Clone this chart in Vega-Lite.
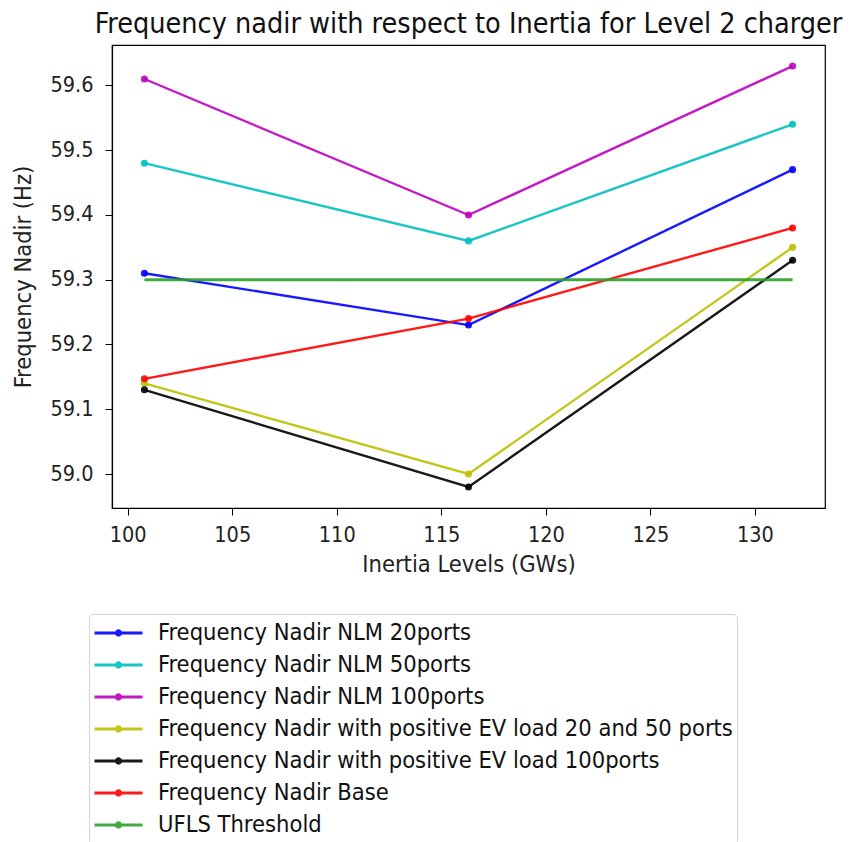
{
  "$schema": "https://vega.github.io/schema/vega-lite/v6.json",
  "width": 713,
  "height": 463,
  "autosize": {"type": "none"},
  "padding": {"left": 112, "top": 45, "right": 24, "bottom": 334},
  "background": "white",
  "config": {
    "font": "DejaVu Sans Condensed",
    "view": {"stroke": "#000", "strokeWidth": 1.2},
    "axis": {
      "grid": false,
      "domainColor": "#000",
      "domainWidth": 1.2,
      "tickColor": "#000",
      "tickSize": 7,
      "labelFontSize": 21.5,
      "labelColor": "#222",
      "labelFont": "DejaVu Sans Condensed",
      "titleFont": "DejaVu Sans Condensed",
      "titleFontSize": 23.5,
      "titleFontWeight": "normal",
      "titleColor": "#222"
    }
  },
  "title": {
    "text": "Frequency nadir with respect to Inertia for Level 2 charger",
    "fontSize": 28.5,
    "font": "DejaVu Sans Condensed",
    "fontWeight": "normal",
    "color": "#111",
    "anchor": "middle",
    "baseline": "bottom",
    "offset": 6,
    "dy": 28
  },
  "data": {
    "values": [
      {"series": "Frequency Nadir NLM 20ports", "inertia": 100.8, "nadir": 59.31},
      {"series": "Frequency Nadir NLM 20ports", "inertia": 116.3, "nadir": 59.23},
      {"series": "Frequency Nadir NLM 20ports", "inertia": 131.8, "nadir": 59.47},
      {"series": "Frequency Nadir NLM 50ports", "inertia": 100.8, "nadir": 59.48},
      {"series": "Frequency Nadir NLM 50ports", "inertia": 116.3, "nadir": 59.36},
      {"series": "Frequency Nadir NLM 50ports", "inertia": 131.8, "nadir": 59.54},
      {"series": "Frequency Nadir NLM 100ports", "inertia": 100.8, "nadir": 59.61},
      {"series": "Frequency Nadir NLM 100ports", "inertia": 116.3, "nadir": 59.40},
      {"series": "Frequency Nadir NLM 100ports", "inertia": 131.8, "nadir": 59.63},
      {"series": "Frequency Nadir with positive EV load 20 and 50 ports", "inertia": 100.8, "nadir": 59.14},
      {"series": "Frequency Nadir with positive EV load 20 and 50 ports", "inertia": 116.3, "nadir": 59.00},
      {"series": "Frequency Nadir with positive EV load 20 and 50 ports", "inertia": 131.8, "nadir": 59.35},
      {"series": "Frequency Nadir with positive EV load 100ports", "inertia": 100.8, "nadir": 59.13},
      {"series": "Frequency Nadir with positive EV load 100ports", "inertia": 116.3, "nadir": 58.98},
      {"series": "Frequency Nadir with positive EV load 100ports", "inertia": 131.8, "nadir": 59.33},
      {"series": "Frequency Nadir Base", "inertia": 100.8, "nadir": 59.147},
      {"series": "Frequency Nadir Base", "inertia": 116.3, "nadir": 59.24},
      {"series": "Frequency Nadir Base", "inertia": 131.8, "nadir": 59.38},
      {"series": "UFLS Threshold", "inertia": 100.8, "nadir": 59.3},
      {"series": "UFLS Threshold", "inertia": 131.8, "nadir": 59.3}
    ]
  },
  "encoding": {
    "x": {
      "field": "inertia",
      "type": "quantitative",
      "scale": {"domain": [99.25, 133.35], "nice": false, "zero": false},
      "axis": {"values": [100, 105, 110, 115, 120, 125, 130], "title": "Inertia Levels (GWs)", "labelPadding": 9, "titlePadding": 7}
    },
    "y": {
      "field": "nadir",
      "type": "quantitative",
      "scale": {"domain": [58.9475, 59.6625], "nice": false, "zero": false},
      "axis": {"values": [59.0, 59.1, 59.2, 59.3, 59.4, 59.5, 59.6], "format": ".1f", "title": "Frequency Nadir (Hz)", "labelPadding": 12, "titlePadding": 14}
    },
    "color": {
      "field": "series",
      "type": "nominal",
      "sort": null,
      "scale": {
        "domain": [
          "Frequency Nadir NLM 20ports",
          "Frequency Nadir NLM 50ports",
          "Frequency Nadir NLM 100ports",
          "Frequency Nadir with positive EV load 20 and 50 ports",
          "Frequency Nadir with positive EV load 100ports",
          "Frequency Nadir Base",
          "UFLS Threshold"
        ],
        "range": ["#0000ff", "#00bfbf", "#bf00bf", "#bfbf00", "#000000", "#ff0000", "#2ca02c"]
      },
      "legend": {
        "title": null,
        "orient": "none",
        "legendX": -23,
        "legendY": 569,
        "padding": 4,
        "strokeColor": "#d4d4d4",
        "fillColor": "white",
        "cornerRadius": 4,
        "labelFontSize": 23.5,
        "labelFont": "DejaVu Sans Condensed",
        "labelColor": "#111",
        "labelLimit": 800,
        "labelOffset": 14,
        "symbolSize": 2304,
        "symbolStrokeWidth": 3,
        "symbolType": "M-1,0L1,0M-0.09,0a0.09,0.09 0 1,0 0.18,0a0.09,0.09 0 1,0 -0.18,0",
        "clipHeight": 30,
        "rowPadding": 2
      }
    }
  },
  "layer": [
    {
      "transform": [{"filter": "datum.series !== 'UFLS Threshold'"}],
      "mark": {"type": "line", "strokeWidth": 2.4, "opacity": 0.9, "point": {"filled": true, "size": 50, "opacity": 0.9}}
    },
    {
      "transform": [{"filter": "datum.series === 'UFLS Threshold'"}],
      "mark": {"type": "line", "strokeWidth": 2.8, "opacity": 0.9}
    }
  ]
}
